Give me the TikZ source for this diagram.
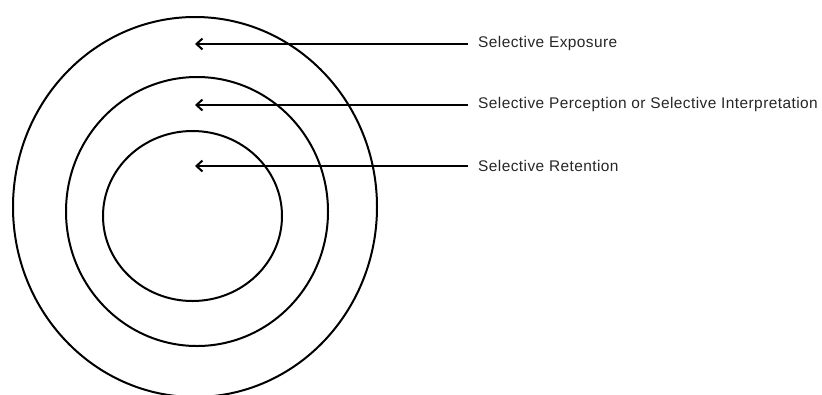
\documentclass[tikz,border=0pt]{standalone}
\usepackage{fontspec}
\setmainfont[LetterSpace=2.8]{Liberation Sans}
\usetikzlibrary{arrows.meta}
\begin{document}
\begin{tikzpicture}[x=1bp,y=-1bp,
  ring/.style={draw=black, line width=2bp},
  pointer/.style={draw=black, line width=2bp, -{Straight Barb[length=6bp,width=11bp,line width=2bp]}},
  caption/.style={anchor=west, inner xsep=10bp, inner ysep=0pt, font=\fontsize{15.5}{18}\selectfont, text=black!85}]
  \useasboundingbox (0,0) rectangle (822,394);
  \clip (0,0) rectangle (822,394);
  % nested rings
  \draw[ring] (195,207) ellipse [x radius=182, y radius=190];
  \draw[ring] (197,211.5) ellipse [x radius=131, y radius=134.5];
  \draw[ring] (192.5,216) ellipse [x radius=89.5, y radius=85];
  % arrow targets
  \coordinate (t1) at (195,44);
  \coordinate (t2) at (195,105);
  \coordinate (t3) at (195,166);
  % captions
  \node[caption] (l1) at (468,44) {Selective Exposure};
  \node[caption] (l2) at (468,105) {Selective Perception or Selective Interpretation};
  \node[caption] (l3) at (468,166) {Selective Retention};
  \draw[pointer] (l1.west) -- (t1);
  \draw[pointer] (l2.west) -- (t2);
  \draw[pointer] (l3.west) -- (t3);
\end{tikzpicture}
\end{document}
